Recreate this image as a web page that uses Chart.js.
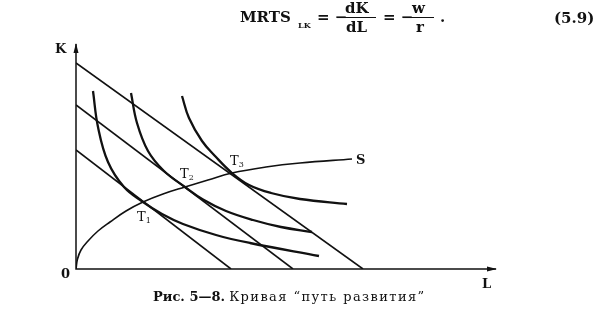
<!DOCTYPE html>
<html>
<head>
<meta charset="utf-8">
<script src="https://cdn.jsdelivr.net/npm/chart.js@4.4.0/dist/chart.umd.min.js"></script>
<style>
  html, body { margin: 0; padding: 0; background: #fff; }
  #wrap { position: relative; width: 597px; height: 317px; overflow: hidden; }
  #wrap canvas { position: absolute; left: 0; top: 0; }
  .t { position: absolute; font-family: "DejaVu Serif", "Liberation Serif", serif; color: #111; font-size: 15px; line-height: 15px; font-weight: bold; white-space: nowrap; }
  .sub { font-size: 8px; line-height: 8px; }
  .bar { position: absolute; height: 1px; background: #111; }
  .cap { font-size: 13px; line-height: 13px; font-weight: normal; }
  .cap span { letter-spacing: 1.4px; }
</style>
</head>
<body>
<div id="wrap">
  <canvas id="myChart" width="597" height="317"></canvas>
  <!-- formula -->
  <span class="t" style="left:240px;top:10px">MRTS</span>
  <span class="t sub" style="left:298px;top:21px">LK</span>
  <span class="t" style="left:317px;top:10px">= −</span>
  <span class="t" style="left:345px;top:1px">dK</span>
  <div class="bar" style="left:343px;top:17px;width:33px"></div>
  <span class="t" style="left:346px;top:20px">dL</span>
  <span class="t" style="left:383px;top:10px">= −</span>
  <span class="t" style="left:412px;top:1px">w</span>
  <div class="bar" style="left:407px;top:17px;width:27px"></div>
  <span class="t" style="left:416px;top:20px">r</span>
  <span class="t" style="left:440px;top:10px">.</span>
  <span class="t" style="left:554px;top:11px">(5.9)</span>
  <!-- caption -->
  <span class="t cap" style="left:153px;top:290px"><b>Рис. 5—8.</b> <span>Кривая “путь развития”</span></span>
</div>
<script>
// axis range (L across, K up)
const xMax = 42;
const yMax = 22.5;

// budget lines: K and L intercepts, low -> high
const budgetK = [11.9, 16.4, 20.6];
const budgetL = [15.5, 21.7, 28.7];

// isoquants
const iso1L = [1.7, 2.2, 3.2, 4.8, 6.7, 8.6, 10.7, 14.0, 17.4, 24.3];
const iso1K = [17.8, 14.2, 10.7, 8.2, 6.7, 5.5, 4.5, 3.4, 2.6, 1.3];
const iso2L = [5.5, 6.1, 7.2, 8.8, 10.9, 12.7, 15.0, 17.7, 20.5, 23.6];
const iso2K = [17.6, 14.6, 11.8, 9.8, 8.2, 6.95, 5.8, 4.9, 4.2, 3.7];
const iso3L = [10.6, 11.3, 12.6, 13.9, 15.6, 17.3, 19.5, 22.4, 27.1];
const iso3K = [17.3, 15.1, 12.8, 11.3, 9.6, 8.4, 7.6, 7.0, 6.5];

// expansion path S
const pathL = [0, 0.15, 0.5, 1.2, 2.2, 3.4, 5.0, 6.7, 8.7, 10.9, 13.2, 15.6, 19.0, 22.4, 27.6];
const pathK = [0, 1.0, 1.9, 2.8, 3.8, 4.7, 5.8, 6.7, 7.5, 8.2, 8.9, 9.6, 10.2, 10.6, 11.0];

// tangency points
const tNames = ['1', '2', '3'];
const tL = [6.7, 10.9, 15.6];
const tK = [6.7, 8.2, 9.6];

function pts(xs, ys) {
  return xs.map((x, i) => ({ x: x, y: ys[i] }));
}

const datasets = [];
budgetK.forEach((k, i) => {
  datasets.push({
    data: [{ x: 0, y: k }, { x: budgetL[i], y: 0 }],
    borderColor: '#111',
    borderWidth: 1.6,
    tension: 0
  });
});
[[iso1L, iso1K], [iso2L, iso2K], [iso3L, iso3K]].forEach(c => {
  datasets.push({
    data: pts(c[0], c[1]),
    borderColor: '#111',
    borderWidth: 2.3,
    tension: 0.4
  });
});
datasets.push({
  data: pts(pathL, pathK),
  borderColor: '#111',
  borderWidth: 1.6,
  tension: 0.4
});

// axes, arrows and labels
const decor = {
  id: 'decor',
  afterDatasetsDraw(chart) {
    const ctx = chart.ctx;
    const a = chart.chartArea;
    const xs = chart.scales.x, ys = chart.scales.y;
    ctx.save();
    ctx.strokeStyle = '#111';
    ctx.fillStyle = '#111';
    ctx.lineWidth = 1.5;
    ctx.beginPath();
    ctx.moveTo(a.left, a.top);
    ctx.lineTo(a.left, a.bottom);
    ctx.lineTo(a.right, a.bottom);
    ctx.stroke();
    // arrow heads
    ctx.beginPath();
    ctx.moveTo(a.left, a.top - 1);
    ctx.lineTo(a.left - 2.5, a.top + 9);
    ctx.lineTo(a.left + 2.5, a.top + 9);
    ctx.closePath();
    ctx.fill();
    ctx.beginPath();
    ctx.moveTo(a.right + 1, a.bottom);
    ctx.lineTo(a.right - 9, a.bottom - 2.5);
    ctx.lineTo(a.right - 9, a.bottom + 2.5);
    ctx.closePath();
    ctx.fill();

    ctx.font = 'bold 13px "DejaVu Serif", serif';
    ctx.textBaseline = 'alphabetic';
    ctx.fillText('K', a.left - 21, a.top + 9);
    ctx.fillText('L', a.right - 14, a.bottom + 19);
    ctx.fillText('0', a.left - 15, a.bottom + 9);

    const offs = [[-6, 19], [-5, -9], [-2, -8]];
    tNames.forEach((n, i) => {
      const px = xs.getPixelForValue(tL[i]) + offs[i][0];
      const py = ys.getPixelForValue(tK[i]) + offs[i][1];
      ctx.font = '13px "DejaVu Serif", serif';
      ctx.fillText('T', px, py);
      const w = ctx.measureText('T').width;
      ctx.font = '8px "DejaVu Serif", serif';
      ctx.fillText(n, px + w, py + 2);
    });
    ctx.font = 'bold 13px "DejaVu Serif", serif';
    const last = pathL.length - 1;
    ctx.fillText('S', xs.getPixelForValue(pathL[last]) + 4, ys.getPixelForValue(pathK[last]) + 5);
    ctx.restore();
  }
};

const myChart = new Chart(document.getElementById('myChart'), {
  type: 'line',
  data: { datasets: datasets },
  options: {
    responsive: false,
    animation: false,
    layout: { padding: { left: 76, right: 101, top: 44, bottom: 48 } },
    elements: { point: { radius: 0 } },
    scales: {
      x: { type: 'linear', min: 0, max: xMax, display: false },
      y: { type: 'linear', min: 0, max: yMax, display: false }
    },
    plugins: { legend: { display: false }, tooltip: { enabled: false } }
  },
  plugins: [decor]
});
</script>
</body>
</html>
